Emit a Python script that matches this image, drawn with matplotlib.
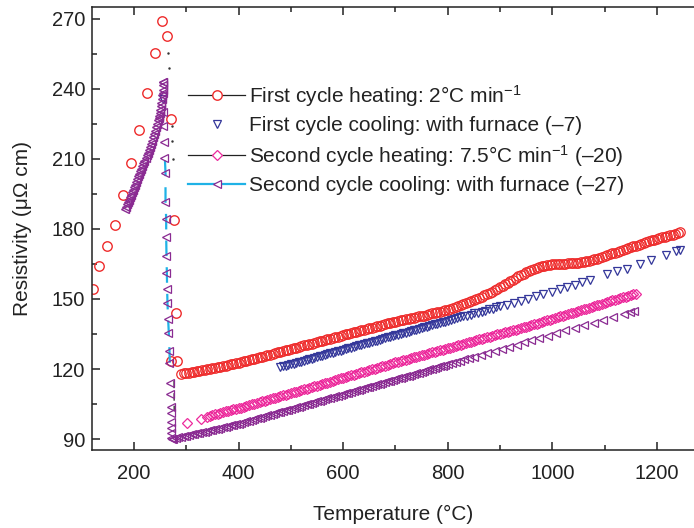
import matplotlib
matplotlib.use('Agg')
import matplotlib.pyplot as plt
from matplotlib.lines import Line2D
from matplotlib.ticker import MultipleLocator

plt.rcParams['font.family'] = ['Liberation Sans', 'DejaVu Sans']
plt.rcParams['mathtext.fontset'] = 'custom'
plt.rcParams['mathtext.rm'] = 'Liberation Sans'
plt.rcParams['mathtext.it'] = 'Liberation Sans'

# first cycle heating, 2 C/min (red circles)
heat1_sparse_t = [121.5, 133.4, 147.7, 163, 179, 194, 209, 224.3, 239.6, 253, 263.8,
                  271.4, 276, 279.8, 271, 282.5]
heat1_sparse_r = [154.3, 164.0, 172.6, 181.7, 194.7, 208.1, 222.6, 238.3, 255.6, 268.9, 262.7,
                  227.1, 183.9, 144.1, 123.6, 123.4]
heat1_t = [290, 295, 300, 305, 310, 315, 320, 325, 330, 335, 340, 345, 350, 355, 360, 365,
           370, 375, 380, 385, 390, 395, 400, 405, 410, 415, 420, 425, 430, 435, 440, 445,
           450, 455, 460, 465, 470, 475, 480, 485, 490, 495, 500, 505, 510, 515, 520, 525,
           530, 535, 540, 545, 550, 555, 560, 565, 570, 575, 580, 585, 590, 595, 600, 605,
           610, 615, 620, 625, 630, 635, 640, 645, 650, 655, 660, 665, 670, 675, 680, 685,
           690, 695, 700, 705, 710, 715, 720, 725, 730, 735, 740, 745, 750, 755, 760, 765,
           770, 775, 780, 785, 790, 795, 800, 805, 810, 815, 820, 825, 830, 835, 840, 845,
           850, 855, 860, 865, 870, 875, 880, 885, 890, 895, 900, 905, 910, 915, 920, 925,
           930, 935, 940, 945, 950, 955, 960, 965, 970, 975, 980, 985, 990, 995, 1000, 1005,
           1010, 1015, 1020, 1025, 1030, 1035, 1040, 1045, 1050, 1055, 1060, 1065, 1070,
           1075, 1080, 1085, 1090, 1095, 1100, 1105, 1110, 1115, 1120, 1125, 1130, 1135,
           1140, 1145, 1150, 1155, 1160, 1165, 1170, 1175, 1180, 1185, 1190, 1195, 1200,
           1205, 1210, 1215, 1220, 1225, 1230, 1235, 1240, 1245]
heat1_r = [118.0, 118.1, 118.3, 118.5, 118.7, 118.9, 119.1, 119.3, 119.5, 119.7, 119.9, 120.1,
           120.3, 120.5, 120.8, 121.0, 121.2, 121.5, 121.7, 122.0, 122.2, 122.5, 122.7, 123.0,
           123.3, 123.6, 123.9, 124.1, 124.4, 124.7, 125.0, 125.3, 125.6, 125.9, 126.2, 126.5,
           126.8, 127.1, 127.4, 127.7, 128.0, 128.3, 128.6, 128.9, 129.2, 129.5, 129.8, 130.1,
           130.4, 130.6, 130.9, 131.2, 131.5, 131.8, 132.1, 132.4, 132.7, 133.0, 133.3, 133.6,
           133.9, 134.2, 134.5, 134.8, 135.1, 135.4, 135.7, 136.0, 136.3, 136.5, 136.8, 137.1,
           137.4, 137.7, 138.0, 138.3, 138.6, 138.9, 139.2, 139.5, 139.8, 140.0, 140.3, 140.5,
           140.8, 141.0, 141.3, 141.5, 141.8, 142.0, 142.2, 142.5, 142.7, 142.9, 143.2, 143.5,
           143.8, 144.0, 144.3, 144.5, 144.8, 145.1, 145.4, 145.7, 146.1, 146.5, 146.9, 147.3,
           147.7, 148.1, 148.6, 149.0, 149.5, 150.0, 150.5, 151.0, 151.5, 152.0, 152.6, 153.2,
           153.8, 154.4, 155.0, 155.6, 156.3, 157.0, 157.7, 158.3, 159.0, 159.7, 160.3, 160.9,
           161.5, 162.1, 162.6, 163.0, 163.4, 163.8, 164.1, 164.3, 164.5, 164.7, 164.8, 164.9,
           165.0, 165.1, 165.2, 165.2, 165.3, 165.3, 165.4, 165.5, 165.6, 165.7, 165.9, 166.1,
           166.4, 166.7, 167.0, 167.3, 167.6, 167.9, 168.3, 168.7, 169.1, 169.5, 169.9, 170.2,
           170.6, 171.0, 171.4, 171.8, 172.2, 172.5, 172.9, 173.2, 173.6, 174.0, 174.4, 174.7,
           175.1, 175.4, 175.8, 176.1, 176.4, 176.7, 177.0, 177.3, 177.6, 178.0, 178.3, 178.5]
# dotted trace of the heating line at the drop
heat1_trace_t = [265.6, 267.6, 273.4, 272.9, 274.0]
heat1_trace_r = [255.3, 248.9, 224.3, 217.7, 210.1]

# first cycle cooling, with furnace (blue down triangles)
cool1_t = [256, 480, 485, 490, 495, 500, 505, 510, 515, 520, 525, 530, 535, 540, 545, 550,
           555, 560, 565, 570, 575, 580, 585, 590, 595, 600, 605, 610, 615, 620, 625, 630,
           635, 640, 645, 650, 655, 660, 665, 670, 675, 680, 685, 690, 695, 700, 705, 710,
           715, 720, 725, 730, 735, 740, 745, 750, 755, 760, 765, 770, 775, 780, 785, 790,
           795, 800, 806, 812, 818, 824, 830, 837, 844, 851, 858, 865, 872, 879, 886, 893,
           900, 913, 926, 940, 954, 968, 983, 1000, 1015, 1028, 1044, 1057, 1073, 1105, 1124,
           1143, 1167, 1188, 1218, 1237, 1244]
cool1_r = [235.5, 120.8, 121.1, 121.4, 121.7, 122.0, 122.3, 122.6, 122.9, 123.2, 123.6, 123.9,
           124.2, 124.5, 124.8, 125.1, 125.4, 125.7, 126.0, 126.3, 126.7, 127.0, 127.3, 127.6,
           127.9, 128.2, 128.5, 128.8, 129.1, 129.4, 129.8, 130.1, 130.4, 130.7, 131.0, 131.3,
           131.6, 131.9, 132.2, 132.5, 132.9, 133.2, 133.5, 133.8, 134.1, 134.4, 134.7, 135.0,
           135.3, 135.6, 136.0, 136.3, 136.6, 136.9, 137.2, 137.5, 137.8, 138.1, 138.4, 138.7,
           139.1, 139.4, 139.7, 140.0, 140.3, 140.6, 141.0, 141.3, 141.7, 142.1, 142.5, 142.9,
           143.3, 143.8, 144.2, 144.6, 145.0, 145.5, 145.9, 146.4, 146.8, 147.6, 148.4, 149.3,
           150.2, 151.1, 152.1, 153.2, 154.2, 155.1, 156.2, 157.1, 158.3, 160.6, 161.8, 163.0,
           164.9, 166.5, 169.0, 170.6, 171.2]

# second cycle heating, 7.5 C/min (pink diamonds)
heat2_t = [302, 327.6, 340, 345, 350, 355, 360, 365, 370, 375, 380, 385, 390, 395, 400, 405,
           410, 415, 420, 425, 430, 435, 440, 445, 450, 455, 460, 465, 470, 475, 480, 485,
           490, 495, 500, 505, 510, 515, 520, 525, 530, 535, 540, 545, 550, 555, 560, 565,
           570, 575, 580, 585, 590, 595, 600, 605, 610, 615, 620, 625, 630, 635, 640, 645,
           650, 655, 660, 665, 670, 675, 680, 685, 690, 695, 700, 705, 710, 715, 720, 725,
           730, 735, 740, 745, 750, 755, 760, 765, 770, 775, 780, 785, 790, 795, 800, 805,
           810, 815, 820, 825, 830, 835, 840, 845, 850, 855, 860, 865, 870, 875, 880, 885,
           890, 895, 900, 905, 910, 915, 920, 925, 930, 935, 940, 945, 950, 955, 960, 965,
           970, 975, 980, 985, 990, 995, 1000, 1005, 1010, 1015, 1020, 1025, 1030, 1035,
           1040, 1045, 1050, 1055, 1060, 1065, 1070, 1075, 1080, 1085, 1090, 1095, 1100,
           1105, 1110, 1115, 1120, 1125, 1130, 1135, 1140, 1145, 1150, 1155, 1160]
heat2_r = [97.0, 98.4, 99.6, 99.9, 100.2, 100.6, 100.9, 101.2, 101.5, 101.8, 102.1, 102.4,
           102.7, 102.9, 103.2, 103.5, 103.8, 104.1, 104.4, 104.8, 105.1, 105.4, 105.7, 106.1,
           106.4, 106.7, 107.0, 107.4, 107.7, 108.0, 108.3, 108.7, 109.0, 109.4, 109.7, 110.0,
           110.3, 110.7, 111.0, 111.3, 111.6, 112.0, 112.3, 112.6, 112.9, 113.3, 113.6, 113.9,
           114.2, 114.6, 114.9, 115.3, 115.6, 116.0, 116.3, 116.6, 116.9, 117.3, 117.6, 117.9,
           118.2, 118.6, 118.9, 119.3, 119.6, 119.9, 120.2, 120.6, 120.9, 121.2, 121.5, 121.8,
           122.1, 122.5, 122.8, 123.1, 123.4, 123.7, 124.0, 124.3, 124.6, 125.0, 125.3, 125.6,
           125.9, 126.2, 126.5, 126.8, 127.1, 127.4, 127.7, 128.0, 128.3, 128.6, 128.9, 129.2,
           129.5, 129.8, 130.1, 130.5, 130.8, 131.1, 131.4, 131.7, 132.0, 132.4, 132.7, 133.0,
           133.3, 133.6, 133.9, 134.2, 134.5, 134.8, 135.1, 135.4, 135.7, 136.0, 136.3, 136.6,
           136.9, 137.2, 137.5, 137.8, 138.1, 138.5, 138.8, 139.1, 139.4, 139.8, 140.1, 140.5,
           140.8, 141.1, 141.4, 141.8, 142.1, 142.5, 142.8, 143.2, 143.5, 143.8, 144.1, 144.5,
           144.8, 145.2, 145.5, 145.9, 146.2, 146.6, 146.9, 147.3, 147.6, 148.0, 148.3, 148.7,
           149.0, 149.4, 149.7, 150.1, 150.4, 150.7, 151.0, 151.4, 151.7, 152.0, 152.3]
heat2_trace_t = [276.5, 276.8]
heat2_trace_r = [115.0, 102.0]

# second cycle cooling, with furnace (purple left triangles)
cool2_t = [1157, 1148, 1137, 1117, 1097, 1079, 1060, 1043, 1025, 1008, 991, 975, 960, 946,
           932, 918, 904, 890, 876, 863, 850, 840, 832, 824, 816, 808, 800, 795, 790, 785,
           780, 775, 770, 765, 760, 755, 750, 745, 740, 735, 730, 725, 720, 715, 710, 705,
           700, 695, 690, 685, 680, 675, 670, 665, 660, 655, 650, 645, 640, 635, 630, 625,
           620, 615, 610, 605, 600, 595, 590, 585, 580, 575, 570, 565, 560, 555, 550, 545,
           540, 535, 530, 525, 520, 515, 510, 505, 500, 495, 490, 485, 480, 475, 470, 465,
           460, 455, 450, 445, 440, 435, 430, 425, 420, 415, 410, 405, 400, 395, 390, 385,
           380, 375, 370, 365, 360, 355, 350, 345, 340, 335, 330, 325, 320, 315, 310, 305,
           300, 295, 290, 285, 280, 275, 272]
cool2_r = [145.0, 144.4, 143.7, 142.4, 141.1, 139.9, 138.7, 137.6, 136.5, 135.4, 134.3, 133.3,
           132.3, 131.4, 130.5, 129.6, 128.7, 127.8, 126.9, 126.1, 125.2, 124.6, 124.1, 123.6,
           123.0, 122.5, 122.0, 121.7, 121.4, 121.1, 120.8, 120.5, 120.1, 119.8, 119.5, 119.2,
           118.9, 118.5, 118.2, 117.9, 117.6, 117.2, 116.9, 116.6, 116.3, 116.0, 115.6, 115.3,
           115.0, 114.7, 114.4, 114.1, 113.7, 113.4, 113.1, 112.8, 112.5, 112.1, 111.8, 111.5,
           111.2, 110.8, 110.5, 110.2, 109.9, 109.6, 109.3, 109.0, 108.6, 108.3, 108.0, 107.7,
           107.4, 107.1, 106.7, 106.4, 106.1, 105.8, 105.5, 105.2, 104.8, 104.5, 104.2, 103.9,
           103.6, 103.3, 102.9, 102.6, 102.3, 102.0, 101.7, 101.4, 101.0, 100.7, 100.4, 100.1,
           99.8, 99.5, 99.1, 98.8, 98.5, 98.2, 97.9, 97.6, 97.2, 96.9, 96.6, 96.3, 96.1, 95.8,
           95.6, 95.3, 95.0, 94.7, 94.5, 94.2, 94.0, 93.7, 93.5, 93.2, 93.0, 92.7, 92.5, 92.2,
           92.0, 91.7, 91.5, 91.2, 91.0, 90.7, 90.5, 90.2, 90.0]
cool2_drop_t = [271.4, 271.4, 270.8, 270.8, 270.2, 270.2, 268.9, 268.9, 267.6, 267.0, 265.7,
                264.4, 263.2, 262.5, 262.0, 261.3, 260.7, 260.7, 259.4, 259.4, 258.2, 258.2,
                256.3, 256.0, 254.6, 256.0]
cool2_drop_r = [90.3, 92.4, 94.8, 97.4, 101.0, 103.9, 109.3, 113.9, 122.7, 127.9, 135.6,
                141.3, 148.1, 154.1, 161.0, 168.4, 176.7, 184.2, 191.7, 203.9, 210.3, 217.4,
                224.1, 230.3, 238.2, 243.1]
cool2_upper_t = [255.5, 255, 254.5, 254, 253, 252, 251, 250, 249, 248, 247, 246, 244, 242,
                 240, 238, 236, 234, 232, 230, 228, 226, 224, 222, 220, 218, 216, 214, 212,
                 210, 208, 206, 204, 202, 200, 198, 196, 194, 192, 190, 188, 186, 184, 182]
cool2_upper_r = [243.0, 241.5, 239.5, 237.5, 235.5, 234.0, 232.5, 231.0, 229.7, 228.5, 227.5,
                 226.6, 225.0, 223.5, 222.0, 220.6, 219.2, 217.8, 216.4, 215.0, 213.9, 212.7,
                 211.6, 210.5, 209.3, 208.2, 207.1, 205.9, 204.8, 203.7, 202.5, 201.4, 200.2,
                 199.0, 197.9, 196.8, 195.7, 194.6, 193.6, 192.5, 191.5, 190.6, 189.6, 188.6]

labels = ['First cycle heating: 2°C min$^{-1}$',
          'First cycle cooling: with furnace (–7)',
          'Second cycle heating: 7.5°C min$^{-1}$ (–20)',
          'Second cycle cooling: with furnace (–27)']

c_red = '#ee2b2b'
c_blue = '#34379a'
c_pink = '#ec2a9c'
c_purple = '#8a2b92'
c_cyan = '#1fb2e6'
c_ink = '#222222'

fig = plt.figure(figsize=(6.94, 5.28), dpi=100)
ax = fig.add_axes([92 / 694, 78 / 528, 602 / 694, 443 / 528])

# red circles
ax.plot(heat1_sparse_t, heat1_sparse_r, 'o', ms=6.8, mfc='none', mec=c_red, mew=1.0)
ax.plot(heat1_t, heat1_r, 'o', ms=6.8, mfc='none', mec=c_red, mew=0.9)
ax.plot(heat1_trace_t, heat1_trace_r, '.', ms=1.5, color='#333333')

# blue triangles
ax.plot(cool1_t, cool1_r, 'v', ms=5.4, mfc='none', mec=c_blue, mew=0.9)

# pink diamonds
ax.plot(heat2_t, heat2_r, 'D', ms=5.2, mfc='none', mec=c_pink, mew=0.9)
ax.plot(heat2_trace_t, heat2_trace_r, '-', color=c_ink, lw=0.9, dashes=(6, 4))

# purple triangles + cyan dashed line at the drop
drop = [i for i, r in enumerate(cool2_drop_r) if 115 < r < 213]
ax.plot([cool2_drop_t[i] + 0.8 for i in drop], [cool2_drop_r[i] for i in drop],
        '-', color=c_cyan, lw=1.6, dashes=(7, 5))
ax.plot(cool2_t, cool2_r, '<', ms=5.4, mfc='none', mec=c_purple, mew=0.9)
ax.plot(cool2_drop_t, cool2_drop_r, '<', ms=5.2, mfc='none', mec=c_purple, mew=0.9)
ax.plot(cool2_upper_t, cool2_upper_r, '<', ms=5.6, mfc='none', mec=c_purple, mew=1.0)

ax.set_xlim(119.6, 1271)
ax.set_ylim(85.3, 275.1)
ax.xaxis.set_major_locator(MultipleLocator(200))
ax.xaxis.set_minor_locator(MultipleLocator(100))
ax.yaxis.set_major_locator(MultipleLocator(30))
ax.yaxis.set_minor_locator(MultipleLocator(15))
ax.tick_params(which='both', direction='in', top=True, right=False, width=1.1,
               color=c_ink, labelsize=14.5, labelcolor=c_ink)
ax.tick_params(which='major', length=6)
ax.tick_params(which='minor', length=3.5)
ax.tick_params(axis='x', which='major', pad=10)
ax.tick_params(axis='y', which='major', pad=5)
ax.spines['right'].set_visible(False)
for s in ['left', 'bottom', 'top']:
    ax.spines[s].set_linewidth(1.1)
    ax.spines[s].set_color(c_ink)

ax.set_xlabel('Temperature (°C)', fontsize=15, color=c_ink, labelpad=16)
ax.set_ylabel('Resistivity (μΩ cm)', fontsize=15, color=c_ink, labelpad=14)

handles = [
    Line2D([], [], color=c_ink, lw=0.9, marker='o', ms=6.8, mfc='white', mec=c_red, mew=1.0),
    Line2D([], [], ls='none', marker='v', ms=5.2, mfc='none', mec=c_blue, mew=0.9),
    Line2D([], [], color=c_ink, lw=0.9, marker='D', ms=5.0, mfc='white', mec=c_pink, mew=0.9),
    Line2D([], [], color=c_cyan, lw=1.6, marker='<', ms=5.2, mfc='white', mec=c_purple, mew=0.9),
]
leg = ax.legend(handles, labels, loc='upper left', bbox_to_anchor=(188 / 694, 1 - 83 / 528),
                bbox_transform=fig.transFigure, frameon=False, fontsize=15, numpoints=1,
                handlelength=2.75, handletextpad=0.18, labelspacing=0.36,
                borderpad=0, borderaxespad=0)
for t in leg.get_texts():
    t.set_color(c_ink)

fig.savefig('out.png', dpi=100)
